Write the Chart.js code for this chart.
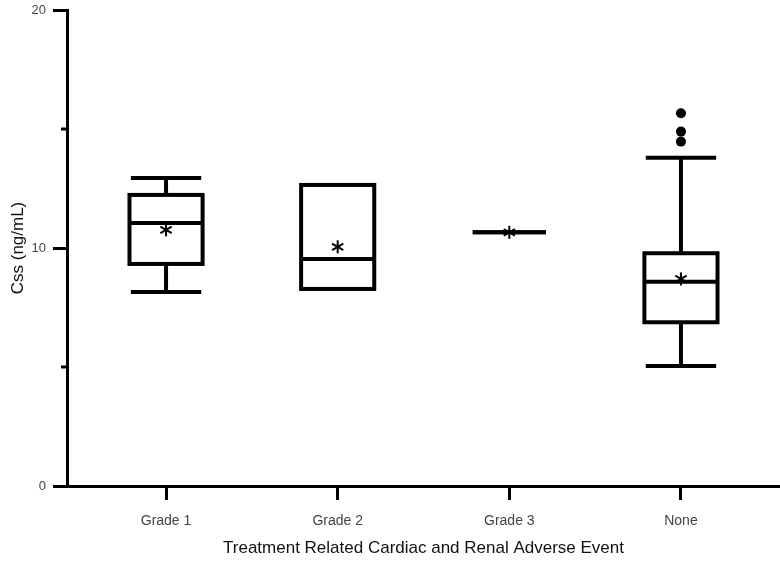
<!DOCTYPE html>
<html lang="en">
<head>
    <meta charset="UTF-8">
    <title>Css by adverse event</title>
    <script src="https://cdn.jsdelivr.net/npm/chart.js"></script>
    <style>
        body { margin: 0; background: #fff; }
    </style>
</head>
<body>
    <canvas id="boxChart" width="780" height="563"></canvas>
    <script>
        // box plot values
        const categories = ['Grade 1', 'Grade 2', 'Grade 3', 'None'];
        const whiskerLow = [8.15, 8.28, 10.66, 5.04];
        const q1 = [9.33, 8.28, 10.66, 6.88];
        const median = [11.05, 9.54, 10.66, 8.58];
        const q3 = [12.23, 12.65, 10.66, 9.78];
        const whiskerHigh = [12.94, 12.65, 10.66, 13.79];
        const means = [10.76, 10.05, 10.66, 8.70];
        const outlierCategory = [4, 4, 4];
        const outlierValues = [15.66, 14.89, 14.47];
        const yTicks = [0, 5, 10, 15, 20];

        const BOX_HALF = 0.213;
        const CAP_HALF = 0.205;

        function line(ctx, x1, y1, x2, y2) {
            ctx.beginPath();
            ctx.moveTo(x1, y1);
            ctx.lineTo(x2, y2);
            ctx.stroke();
        }

        const boxPlugin = {
            id: 'boxes',
            afterDatasetsDraw(chart) {
                const ctx = chart.ctx;
                const x = chart.scales.x;
                const y = chart.scales.y;
                ctx.save();
                ctx.strokeStyle = '#000';
                ctx.lineWidth = 4;
                categories.forEach((c, i) => {
                    const pos = i + 1;
                    const xc = x.getPixelForValue(pos);
                    const xl = x.getPixelForValue(pos - BOX_HALF);
                    const xr = x.getPixelForValue(pos + BOX_HALF);
                    const cl = x.getPixelForValue(pos - CAP_HALF);
                    const cr = x.getPixelForValue(pos + CAP_HALF);
                    const yLow = y.getPixelForValue(whiskerLow[i]);
                    const yQ1 = y.getPixelForValue(q1[i]);
                    const yMed = y.getPixelForValue(median[i]);
                    const yQ3 = y.getPixelForValue(q3[i]);
                    const yHigh = y.getPixelForValue(whiskerHigh[i]);

                    if (whiskerHigh[i] > q3[i]) {
                        line(ctx, xc, yQ3, xc, yHigh);
                        line(ctx, cl, yHigh, cr, yHigh);
                    }
                    if (whiskerLow[i] < q1[i]) {
                        line(ctx, xc, yQ1, xc, yLow);
                        line(ctx, cl, yLow, cr, yLow);
                    }
                    ctx.strokeRect(xl, yQ3, xr - xl, yQ1 - yQ3);
                    line(ctx, xl, yMed, xr, yMed);

                    // mean as an asterisk
                    const ym = y.getPixelForValue(means[i]);
                    const r = 6.5;
                    ctx.lineWidth = 2;
                    for (let k = 0; k < 3; k++) {
                        const a = Math.PI / 2 + k * Math.PI / 3;
                        line(ctx, xc - r * Math.cos(a), ym - r * Math.sin(a), xc + r * Math.cos(a), ym + r * Math.sin(a));
                    }
                    ctx.lineWidth = 4;
                });

                // short minor ticks on the y axis
                ctx.lineWidth = 3;
                yTicks.forEach(v => {
                    if (v % 10 !== 0) {
                        const py = y.getPixelForValue(v);
                        line(ctx, y.right - 6, py, y.right, py);
                    }
                });
                ctx.restore();
            }
        };

        const outliers = outlierValues.map((v, i) => ({ x: outlierCategory[i], y: v }));

        new Chart(document.getElementById('boxChart').getContext('2d'), {
            type: 'scatter',
            data: {
                datasets: [{
                    label: 'Outliers',
                    data: outliers,
                    pointRadius: 5,
                    pointBackgroundColor: '#000',
                    pointBorderColor: '#000',
                    pointBorderWidth: 0
                }]
            },
            options: {
                responsive: false,
                animation: false,
                layout: {
                    autoPadding: false,
                    padding: { top: 10, right: 0, left: 0, bottom: 0 }
                },
                plugins: {
                    legend: { display: false },
                    tooltip: { enabled: false }
                },
                scales: {
                    x: {
                        type: 'linear',
                        min: 0.423,
                        max: 4.577,
                        afterBuildTicks: scale => {
                            scale.ticks = categories.map((c, i) => ({ value: i + 1 }));
                        },
                        afterFit: scale => {
                            scale.height = 77;
                            scale.paddingLeft = 0;
                            scale.paddingRight = 0;
                        },
                        grid: {
                            drawOnChartArea: false,
                            tickLength: 14,
                            tickWidth: 3,
                            tickColor: '#000'
                        },
                        border: { color: '#000', width: 3 },
                        ticks: {
                            padding: 13,
                            color: '#444',
                            font: { family: 'Liberation Sans', size: 14 },
                            callback: v => categories[v - 1]
                        },
                        title: {
                            display: true,
                            text: 'Treatment Related Cardiac and Renal Adverse Event',
                            color: '#111',
                            font: { family: 'Liberation Sans', size: 17 },
                            padding: { top: 6 }
                        }
                    },
                    y: {
                        min: 0,
                        max: 20,
                        afterBuildTicks: scale => {
                            scale.ticks = yTicks.map(v => ({ value: v }));
                        },
                        afterFit: scale => {
                            scale.width = 67;
                            scale.paddingTop = 0;
                            scale.paddingBottom = 0;
                        },
                        grid: {
                            drawOnChartArea: false,
                            tickLength: 14,
                            tickWidth: 3,
                            tickColor: ctx => (ctx.tick && ctx.tick.value % 10 === 0) ? '#000' : 'rgba(0,0,0,0)'
                        },
                        border: { color: '#000', width: 3 },
                        ticks: {
                            padding: 7,
                            color: '#444',
                            font: { family: 'Liberation Sans', size: 13 },
                            callback: v => (v % 10 === 0 ? v : '')
                        },
                        title: {
                            display: true,
                            text: 'Css (ng/mL)',
                            color: '#111',
                            font: { family: 'Liberation Sans', size: 17 },
                            padding: { top: 8, bottom: 0 }
                        }
                    }
                }
            },
            plugins: [boxPlugin]
        });
    </script>
</body>
</html>
